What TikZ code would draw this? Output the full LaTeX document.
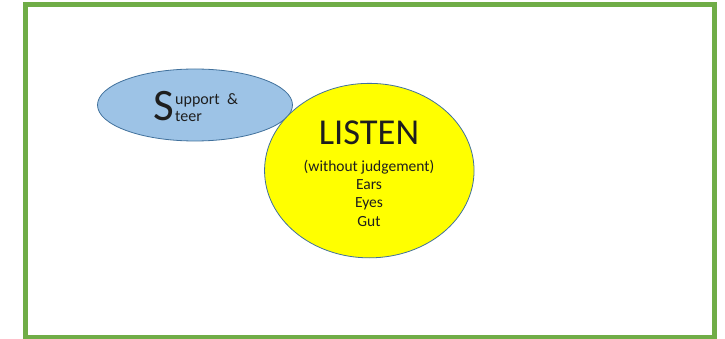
\documentclass[tikz,border=0pt]{standalone}
\usepackage{fontspec}
\setmainfont{Carlito}
\usetikzlibrary{shapes.geometric}
\definecolor{frame}{HTML}{70AD47}
\definecolor{bluefill}{HTML}{9DC3E6}
\definecolor{edge}{HTML}{41719C}
\definecolor{yellowfill}{HTML}{FFFF00}
\definecolor{txt}{HTML}{1E1E1E}
\begin{document}
\begin{tikzpicture}[x=1pt,y=-1pt,
  txtstyle/.style={inner sep=0pt,anchor=base,text=txt},
  small/.style={txtstyle,font=\fontsize{15.5}{18}\selectfont}]
\useasboundingbox (0,0) rectangle (725,339);
\draw[frame,line width=5pt] (25.5,4.5) rectangle (714.2,337.5);
\node[ellipse,draw=edge,fill=bluefill,line width=0.8pt,minimum width=195pt,minimum height=72pt,inner sep=0pt] (support) at (195,105) {};
\node[ellipse,draw=edge,fill=yellowfill,line width=0.8pt,minimum width=209.5pt,minimum height=174.5pt,inner sep=0pt] (listen) at (369.3,170.6) {};
\node[txtstyle,anchor=base west,font=\fontsize{45}{50}\selectfont] (bigs) at (153,121) {S};
\node[txtstyle,anchor=base west,font=\fontsize{16}{19}\selectfont] (upport) at (175,105) {upport\ \ \&};
\node[txtstyle,anchor=base west,font=\fontsize{16}{19}\selectfont] (teer) at (175,121.7) {teer};
\node[txtstyle,font=\fontsize{36.5}{42}\selectfont] (title) at (369,145) {LISTEN};
\node[small] (without) at (369,171.5) {(without judgement)};
\node[small] (ears) at (369,189.3) {Ears};
\node[small] (eyes) at (369,207.6) {Eyes};
\node[small] (gut) at (369,226) {Gut};
\end{tikzpicture}
\end{document}
